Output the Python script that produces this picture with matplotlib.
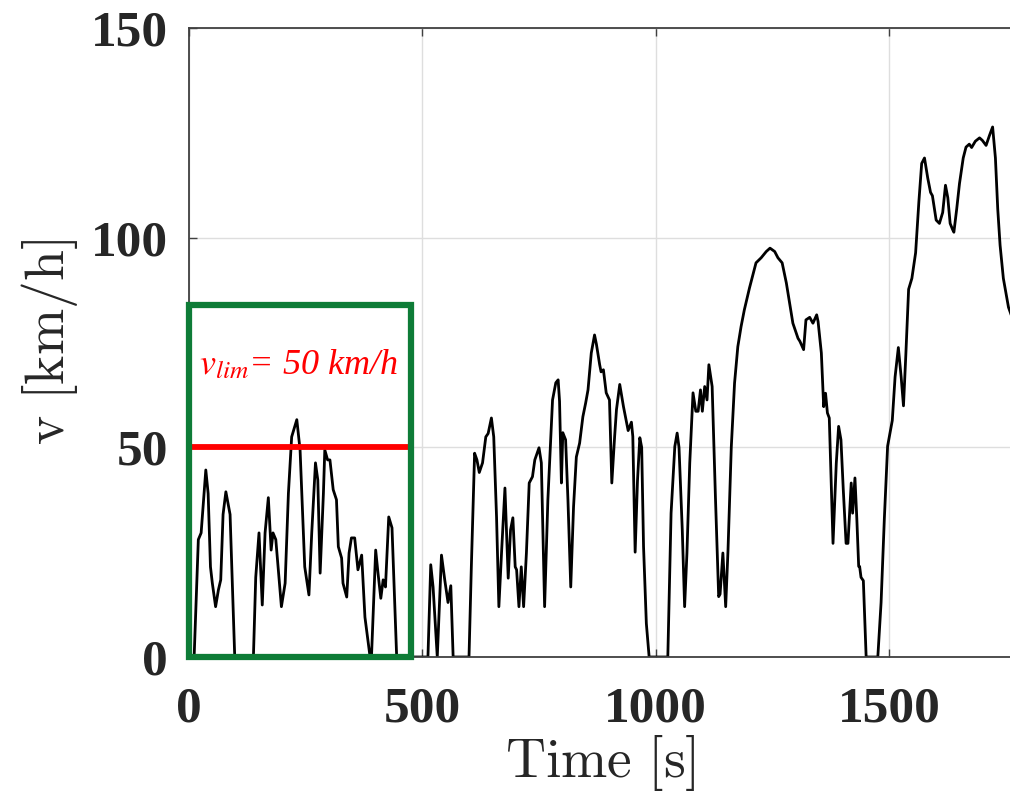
import numpy as np
import matplotlib
matplotlib.use('Agg')
import matplotlib.pyplot as plt
from matplotlib.patches import Rectangle

# speed profile (time in s, speed in km/h)
t = [0, 11, 20, 26, 36, 41, 46, 50, 57, 63, 68, 73, 79, 88, 98,
     138, 143, 150, 157, 163, 170, 176, 180, 186, 198, 206, 213, 220, 231, 238,
     248, 257, 263, 271, 276, 281, 288, 291, 297, 302, 309, 316, 320, 327, 330,
     338, 343, 348, 355, 362, 370, 377, 388, 391, 400, 405, 411, 416, 421, 428,
     435, 445,
     512, 518, 523, 532, 541, 548, 555, 561, 566,
     600, 605, 612, 617, 622, 629, 636, 641, 648, 653, 659, 664, 670, 677, 684,
     689, 694, 699, 702, 707, 712, 717, 723, 729, 736, 741, 750, 755, 762, 769,
     779, 786, 791, 794, 798, 801, 807, 812, 818, 824, 830, 837, 844, 850, 855,
     862, 869, 873, 880, 883, 888, 894, 901, 906, 912, 916, 923, 931, 941, 948,
     951, 956, 961, 966, 970, 974, 980, 986,
     1026, 1033, 1041, 1046, 1050, 1057, 1062, 1067, 1073, 1080, 1086, 1091,
     1096, 1100, 1105, 1110, 1114, 1121, 1128, 1135, 1138, 1144, 1150, 1155,
     1162, 1169, 1176, 1183, 1190, 1201, 1215, 1226, 1237, 1245, 1255, 1262,
     1271, 1280, 1287, 1294, 1305, 1309, 1317, 1322, 1330, 1337, 1345, 1348,
     1355, 1360, 1364, 1368, 1372, 1380, 1387, 1392, 1397, 1402, 1408, 1412,
     1419, 1422, 1427, 1431, 1435, 1437, 1440, 1445, 1451,
     1476, 1483, 1490, 1497, 1507, 1513, 1520, 1526, 1531, 1536, 1542, 1549,
     1557, 1564, 1570, 1576, 1583, 1589, 1593, 1601, 1608, 1615, 1621, 1626,
     1631, 1636, 1639, 1645, 1651, 1659, 1665, 1672, 1677, 1685, 1694, 1700,
     1708, 1715, 1722, 1728, 1733, 1738, 1745, 1756, 1770]
v = [0, 0, 28, 29.6, 44.6, 39, 21.5, 17.6, 12, 16, 18.4, 34, 39.4, 34, 0,
     0, 19, 29.6, 12.4, 29.6, 38, 25.5, 29.6, 28, 12, 17.6, 39, 52.5, 56.6, 49.4,
     21.5, 14.8, 29.6, 46.3, 42.2, 20, 39, 49.4, 47, 47, 39.9, 37.5, 26.3, 23.6, 17.6,
     14.3, 24.8, 28.4, 28.4, 20.8, 24.3, 9.5, 0, 0, 25.5, 20, 14, 18.4, 16.7, 33.4,
     30.8, 0,
     0, 22, 16.7, 0, 24.3, 18.4, 13, 17, 0,
     0, 21.5, 48.6, 47, 44, 46.3, 52.5, 53.3, 57, 52.5, 33.4, 12, 25.5, 40.3, 18.8,
     30.3, 33.2, 21.5, 20.8, 12, 21.5, 12, 24.8, 41.5, 43, 47, 49.9, 46.3, 12, 37.5,
     61.3, 65.4, 66.1, 61, 41.5, 53.5, 51.8, 37.5, 16.7, 35.8, 47.7, 51, 57.3, 60.6, 63.7,
     72.5, 76.8, 74.6, 69.7, 68, 68.5, 63, 61.3, 41.5, 52.5, 59, 65, 59.7, 54, 56,
     52.6, 25, 42, 52.3, 50, 26.3, 8, 0,
     0, 34.3, 50.2, 53.4, 50, 30.3, 12, 24.8, 46.2, 63, 58.6, 58.6,
     63.7, 58.6, 64.5, 61.3, 69.7, 64.5, 38.3, 14.4, 15, 24.8, 12, 25.5,
     50, 65.3, 74, 78.8, 82.8, 88, 94, 95.2, 96.7, 97.5, 96.7, 95.2,
     94, 89.2, 84.4, 79.6, 76, 75.3, 73.3, 80.4, 81, 79.6, 81.6, 80,
     72.5, 59.7, 62.9, 58.2, 57, 27.1, 46.2, 55, 51.8, 39.9, 27.1, 27.1,
     41.5, 34.3, 42.7, 33, 21.6, 21.6, 19, 18.2, 0,
     0, 13, 33, 50.3, 56.4, 66.8, 73.8, 66.8, 59.9, 72, 87.7, 90.3,
     96.4, 108.6, 117.7, 119, 114.2, 110.8, 110, 104.2, 103.4, 106, 112.5, 109.5,
     103.4, 102, 101.3, 106.8, 112.9, 119, 121.6, 122.3, 121.5, 123, 123.8, 123.2,
     122, 124.3, 126.4, 119, 106.8, 98.2, 90.3, 83.4, 79]

v_lim = 50
box_t = [0, 475]
box_v = [0, 84]
xticks = [0, 500, 1000, 1500]
yticks = [0, 50, 100, 150]

fig = plt.figure(figsize=(10.1, 7.95), dpi=100)
ax = fig.add_axes([0.18713, 0.17358, 0.8317, 0.79119])

ax.plot(t, v, color='black', lw=2.0, solid_joinstyle='round')
ax.plot(box_t, [v_lim, v_lim], color='#FF0000', lw=4.2, solid_capstyle='butt', zorder=4)
ax.add_patch(Rectangle((box_t[0], box_v[0]), box_t[1] - box_t[0], box_v[1] - box_v[0],
                       fill=False, edgecolor='#0E7C37', lw=4.5, clip_on=False, zorder=5))
ax.text(22, 67.5, r'$v_{lim}$= 50 km/h', color='#FF0000', fontsize=26,
        family='Liberation Serif', style='italic', math_fontfamily='stix',
        ha='left', va='baseline')

ax.set_xlim(0, 1800)
ax.set_ylim(0, 150)
ax.set_xticks(xticks)
ax.set_yticks(yticks)
ax.grid(True, color='#dedede', lw=1.0)
ax.set_axisbelow(True)

for s in ax.spines.values():
    s.set_color('#404040')
    s.set_linewidth(1.3)
ax.tick_params(direction='in', length=6, width=1.0, color='#404040',
               top=True, right=True)
ax.tick_params(axis='x', pad=21)
ax.tick_params(axis='y', pad=15)
for lab in ax.get_xticklabels() + ax.get_yticklabels():
    lab.set_fontfamily('Liberation Serif')
    lab.set_fontweight('bold')
    lab.set_fontsize(37)
    lab.set_color('#262626')

ax.set_xlabel(r'$\mathrm{Time\ [s]}$', fontsize=40, math_fontfamily='cm', color='#262626')
ax.set_ylabel(r'$\mathrm{v\ [km/h]}$', fontsize=40, math_fontfamily='cm', color='#262626')
ax.xaxis.set_label_coords(0.4895, -0.168)
ax.xaxis.label.set_va('center')
ax.yaxis.set_label_coords(-0.1655, 0.5)
ax.yaxis.label.set_va('center')

fig.savefig('out.png', dpi=100)
